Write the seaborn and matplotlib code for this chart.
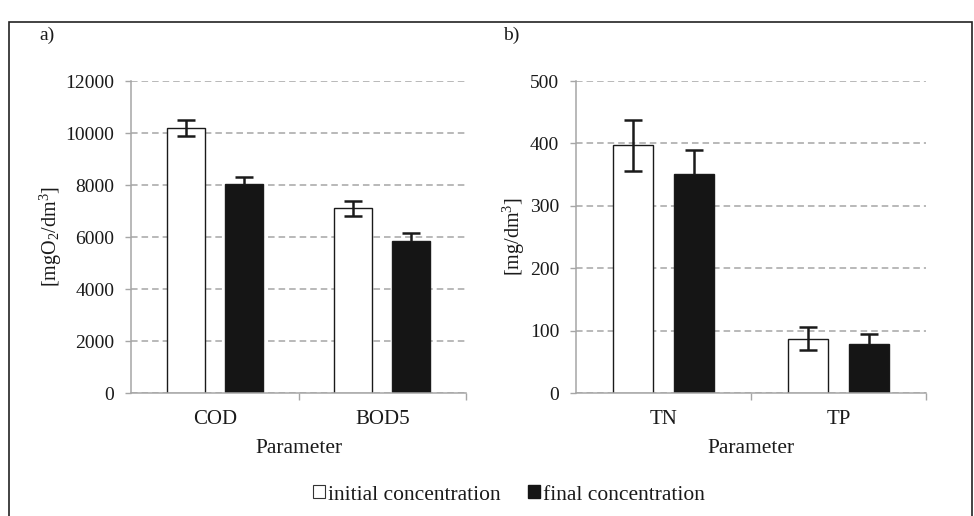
import pandas as pd
import seaborn as sns
import matplotlib.pyplot as plt
from matplotlib.patches import Patch, Rectangle

# wartości
series = ['initial concentration', 'final concentration']

params_a = ['COD', 'BOD5']
initial_a = [10200, 7100]
final_a = [8020, 5860]
err_initial_a = [310, 300]
err_final_a = [300, 280]

params_b = ['TN', 'TP']
initial_b = [397, 87]
final_b = [351, 79]
err_initial_b = [41, 18]
err_final_b = [39, 16]

cor_barras = ['white', '#151515']
cor_eixo = '#a6a6a6'
cor_texto = '#1a1a1a'

sns.set_theme(style='white')
plt.rcParams['font.family'] = ['Liberation Serif', 'DejaVu Serif']
plt.rcParams['mathtext.fontset'] = 'custom'
plt.rcParams['mathtext.rm'] = 'Liberation Serif'
plt.rcParams['mathtext.it'] = 'Liberation Serif:italic'
plt.rcParams['font.size'] = 14


def montar_df(params, inicial, final):
    linhas = []
    for p, v in zip(params, inicial):
        linhas.append({'Parameter': p, 'serie': series[0], 'valor': v})
    for p, v in zip(params, final):
        linhas.append({'Parameter': p, 'serie': series[1], 'valor': v})
    return pd.DataFrame(linhas)


def desenhar_painel(ax, params, inicial, final, err_ini, err_fin, ymax, passo, ylabel, ylabel_x):
    df = montar_df(params, inicial, final)
    sns.barplot(data=df, x='Parameter', y='valor', hue='serie', order=params,
                hue_order=series, palette=cor_barras, width=0.69, gap=0.34,
                edgecolor=cor_texto, linewidth=1.0, legend=False, ax=ax, zorder=2)
    # barras de erro a partir das posições das barras
    # (as da série final ficam atrás da barra preta, só a parte de cima aparece)
    for cont, erros, z in zip(ax.containers, [err_ini, err_fin], [3, 1.5]):
        xs = [b.get_x() + b.get_width() / 2 for b in cont]
        ys = [b.get_height() for b in cont]
        ax.errorbar(xs, ys, yerr=erros, fmt='none', ecolor=cor_texto,
                    elinewidth=1.8, capsize=6.5, capthick=1.8, zorder=z)

    ax.set_xlim(-0.5, len(params) - 0.5)
    ax.set_ylim(0, ymax)
    ax.set_yticks(range(0, ymax + 1, passo))
    ax.yaxis.grid(True, color=cor_eixo, linestyle=(0, (4.3, 2.6)), linewidth=1.1, zorder=0)
    ax.xaxis.grid(False)
    ax.set_axisbelow(True)

    for lado in ['top', 'right']:
        ax.spines[lado].set_visible(False)
    for lado in ['left', 'bottom']:
        ax.spines[lado].set_color(cor_eixo)
        ax.spines[lado].set_linewidth(1.1)

    ax.tick_params(axis='y', which='major', left=True, length=4, width=1, color=cor_eixo,
                   pad=8, labelcolor=cor_texto, labelsize=14)
    ax.tick_params(axis='x', which='major', bottom=True, length=0, pad=12.5,
                   labelcolor=cor_texto, labelsize=15)
    # ticks entre categorias, estilo Excel
    ax.set_xticks([i + 0.5 for i in range(len(params))], minor=True)
    ax.tick_params(axis='x', which='minor', bottom=True, length=5, width=1, color=cor_eixo)

    ax.set_ylabel(ylabel, color=cor_texto, fontsize=14.5)
    ax.yaxis.set_label_coords(ylabel_x, 0.5)
    ax.set_xlabel('Parameter', color=cor_texto, fontsize=15.5)
    ax.xaxis.set_label_coords(0.5, -0.147)


fig = plt.figure(figsize=(9.74, 5.16), dpi=100)
ax1 = fig.add_axes([131 / 974, 1 - 393 / 516, 335 / 974, 312 / 516])
ax2 = fig.add_axes([576 / 974, 1 - 393 / 516, 350 / 974, 312 / 516])

desenhar_painel(ax1, params_a, initial_a, final_a, err_initial_a, err_final_a,
                12000, 2000, '[mgO$_2$/dm$^3$]', -0.201)
desenhar_painel(ax2, params_b, initial_b, final_b, err_initial_b, err_final_b,
                500, 100, '[mg/dm$^3$]', -0.14)

fig.text(47 / 974, 1 - 35 / 516, 'a)', ha='center', va='center', color=cor_texto, fontsize=14)
fig.text(511 / 974, 1 - 35 / 516, 'b)', ha='center', va='center', color=cor_texto, fontsize=14)

handles = [Patch(facecolor=cor_barras[0], edgecolor='#333333', linewidth=0.8),
           Patch(facecolor=cor_barras[1], edgecolor=cor_barras[1])]
fig.legend(handles, series, loc='center', bbox_to_anchor=(509 / 974, 1 - 495 / 516),
           ncol=2, frameon=False, handlelength=0.55, handleheight=0.55,
           handletextpad=0.15, columnspacing=1.3, fontsize=15.5, labelcolor=cor_texto)

# moldura da figura
fig.patches.append(Rectangle((9 / 974, -0.02), 963 / 974, 1 - 22 / 516 + 0.02,
                             transform=fig.transFigure, fill=False,
                             edgecolor='#222222', linewidth=1.2))

fig.savefig('out.png', dpi=100)
plt.close(fig)
